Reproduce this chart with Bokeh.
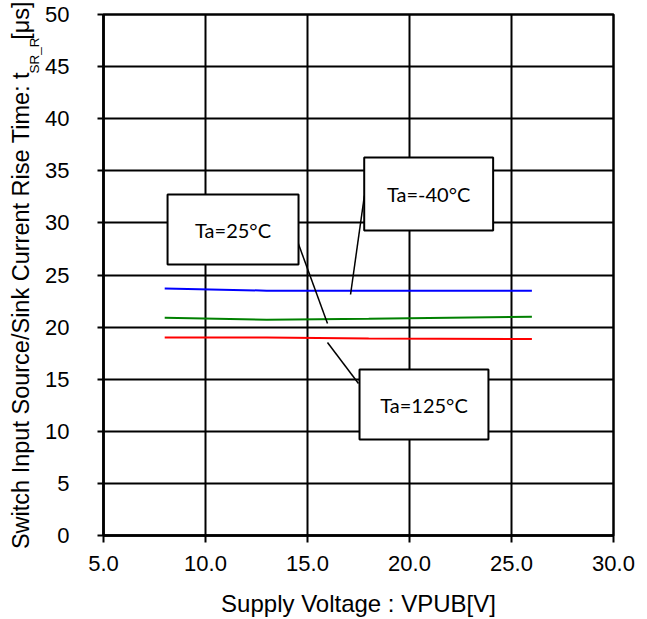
import math
from bokeh.plotting import figure
from bokeh.models import Range1d, FixedTicker, NumeralTickFormatter, Title
from bokeh.embed import file_html
from bokeh.resources import INLINE
from bokeh.core.properties import value

# ---- data ----
voltage = [8, 13, 18, 26]
rise_m40 = [23.7, 23.5, 23.5, 23.5]
rise_25 = [20.9, 20.7, 20.8, 21.0]
rise_125 = [19.0, 19.0, 18.9, 18.85]
x_ticks = [5, 10, 15, 20, 25, 30]
y_ticks = [0, 5, 10, 15, 20, 25, 30, 35, 40, 45, 50]
labels = ["Ta=-40°C", "Ta=25°C", "Ta=125°C"]
y_title_main = "Switch Input Source/Sink Current Rise Time: t"
y_title_sub = "SR_R"
y_title_unit = "[μs]"

FONT = "Liberation Sans"
NBSP = "\u00a0"

p = figure(width=647, height=619, output_backend="svg", toolbar_location=None,
           x_range=Range1d(5, 30), y_range=Range1d(0, 50),
           min_border_left=103, min_border_right=34, min_border_top=14, min_border_bottom=84)

p.background_fill_color = "white"
p.border_fill_color = "white"
p.outline_line_color = "black"
p.outline_line_width = 2.5

for g in (p.xgrid, p.ygrid):
    g.grid_line_color = "black"
    g.grid_line_width = 2
p.xgrid.ticker = FixedTicker(ticks=x_ticks)
p.ygrid.ticker = FixedTicker(ticks=y_ticks)

xa = p.xaxis[0]
ya = p.yaxis[0]
xa.ticker = FixedTicker(ticks=x_ticks)
ya.ticker = FixedTicker(ticks=y_ticks)
xa.formatter = NumeralTickFormatter(format="0.0")
ya.formatter = NumeralTickFormatter(format="0")
for ax in (xa, ya):
    ax.axis_line_color = "black"
    ax.axis_line_width = 2.5
    ax.major_tick_line_color = "black"
    ax.major_tick_line_width = 2
    ax.major_tick_in = 0
    ax.minor_tick_line_color = None
    ax.major_label_text_font = FONT
    ax.major_label_text_font_size = "22px"
    ax.major_label_text_color = "black"
    ax.axis_label_text_font = FONT
    ax.axis_label_text_font_style = "normal"
    ax.axis_label_text_color = "black"
xa.major_tick_out = 7
ya.major_tick_out = 6
xa.major_label_standoff = 13
ya.major_label_standoff = 28
xa.axis_label = "Supply Voltage : VPUB[V]"
xa.axis_label_text_font_size = "24px"
xa.axis_label_standoff = 16
ya.axis_label = y_title_main + NBSP * 5 + y_title_unit
ya.axis_label_text_font_size = "23.5px"
ya.axis_label_standoff = 8

# subscript of the y title
sub = Title(text=y_title_sub, align="right", offset=23, standoff=-73,
            text_font=FONT, text_font_size="13.5px", text_font_style="normal",
            text_color="black")
p.add_layout(sub, "left")

# series
p.line(voltage, rise_m40, line_color="#0000FF", line_width=2)
p.line(voltage, rise_25, line_color="#008000", line_width=2)
p.line(voltage, rise_125, line_color="#FF0000", line_width=2)

# callout leader lines (data units)
leaders = [((17.79, 17.11), (32.63, 23.13)),
           ((14.46, 15.98), (28.5, 20.35)),
           ((17.5, 15.98), (14.59, 18.52))]
for xs, ys in leaders:
    p.line(list(xs), list(ys), line_color="black", line_width=1.5)

# callout boxes
box_x = [20.94, 11.35, 20.71]
box_y = [32.77, 29.36, 12.57]
box_w = [6.32, 6.42, 6.32]
box_h = [7.0, 6.72, 6.72]
p.rect(x=box_x, y=box_y, width=box_w, height=box_h, fill_color="white",
       line_color="black", line_width=2)
p.text(x=box_x, y=box_y, text=labels, text_font=value("Lato"), text_font_size="20px",
       text_align="center", text_baseline="middle", text_color="black")

open("out.html", "w").write(file_html(p, INLINE))
